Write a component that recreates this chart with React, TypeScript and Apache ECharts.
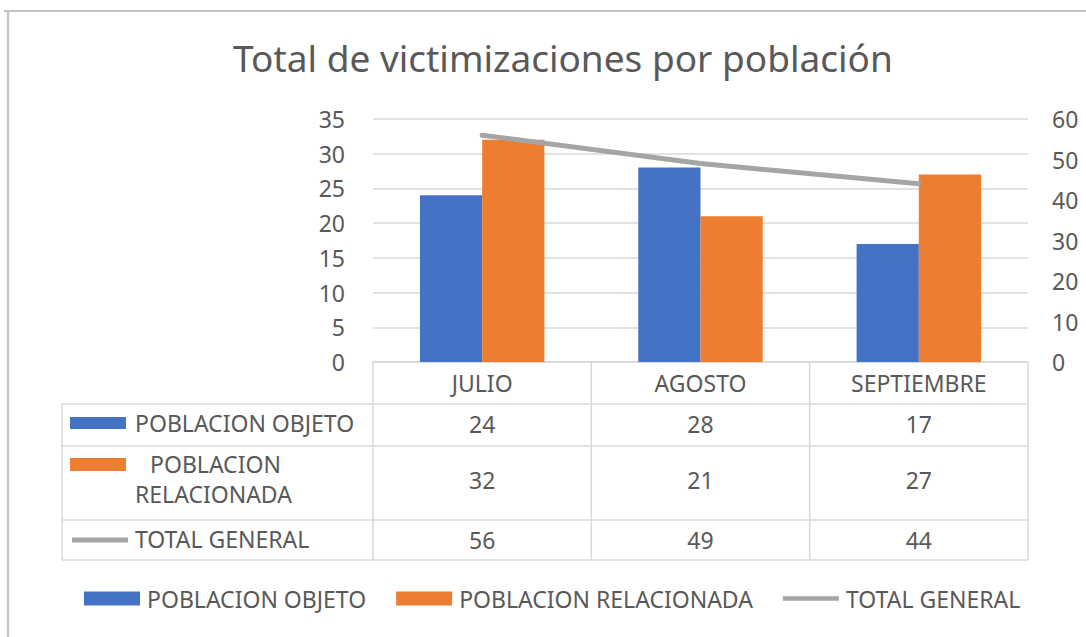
import React, { useEffect, useRef } from 'react';
import * as echarts from 'echarts';

const title = 'Total de victimizaciones por población';
const categories = ['JULIO', 'AGOSTO', 'SEPTIEMBRE'];
const seriesNames = ['POBLACION OBJETO', 'POBLACION RELACIONADA', 'TOTAL GENERAL'];
const poblacionObjeto = [24, 28, 17];
const poblacionRelacionada = [32, 21, 27];
const totalGeneral = [56, 49, 44];
const leftAxis = { min: 0, max: 35, interval: 5 };
const rightAxis = { min: 0, max: 60, interval: 10 };

const FONT = '"Noto Sans", sans-serif';
const TXT = '#595959';
const GRIDC = '#d9d9d9';
const COLORS = ['#4472C4', '#ED7D31', '#A5A5A5'];

const G = { l: 373, r: 1028, t: 119, b: 362 };
const ROWS = [362, 404, 446, 520, 560];
const TABLE_L = 62;

export default function App() {
  const ref = useRef<HTMLDivElement>(null);
  useEffect(() => {
    document.body.style.margin = '0';
    const chart = echarts.init(ref.current!, null, { renderer: 'svg' });
    chart.setOption({
      animation: false,
      backgroundColor: '#ffffff',
      title: {
        text: title,
        left: 228,
        top: 34,
        textStyle: { fontFamily: FONT, fontSize: 37, fontWeight: 'normal', color: TXT },
      },
      legend: {
        left: 84,
        top: 587,
        padding: 0,
        itemWidth: 56,
        itemHeight: 14,
        itemGap: 30,
        textStyle: { fontFamily: FONT, fontSize: 23, color: TXT, padding: [0, 0, 0, 2] },
        data: [
          { name: seriesNames[0], icon: 'rect' },
          { name: seriesNames[1], icon: 'rect' },
          { name: seriesNames[2], icon: 'path://M0,0L60,0L60,5L0,5Z' },
        ],
      },
      grid: { left: G.l, right: 1086 - G.r, top: G.t, bottom: 637 - G.b, containLabel: false },
      xAxis: {
        type: 'category',
        data: categories,
        axisLine: { show: true, lineStyle: { color: GRIDC, width: 1.5 } },
        axisTick: { show: false },
        axisLabel: {
          margin: 21,
          verticalAlign: 'middle',
          fontFamily: FONT,
          fontSize: 23,
          color: TXT,
        },
      },
      yAxis: [
        {
          type: 'value',
          ...leftAxis,
          axisLine: { show: false },
          axisTick: { show: false },
          axisLabel: { margin: 28, fontFamily: FONT, fontSize: 23, color: TXT },
          splitLine: { lineStyle: { color: GRIDC, width: 1.5 } },
        },
        {
          type: 'value',
          ...rightAxis,
          position: 'right',
          axisLine: { show: false },
          axisTick: { show: false },
          axisLabel: { margin: 24, fontFamily: FONT, fontSize: 23, color: TXT },
          splitLine: { show: false },
        },
      ],
      series: [
        {
          name: seriesNames[0],
          type: 'bar',
          data: poblacionObjeto,
          itemStyle: { color: COLORS[0] },
          barGap: '0%',
          barCategoryGap: '43%',
        },
        {
          name: seriesNames[1],
          type: 'bar',
          data: poblacionRelacionada,
          itemStyle: { color: COLORS[1] },
          barGap: '0%',
          barCategoryGap: '43%',
        },
        {
          name: seriesNames[2],
          type: 'line',
          yAxisIndex: 1,
          data: totalGeneral,
          symbol: 'none',
          lineStyle: { color: COLORS[2], width: 5, cap: 'round' },
          itemStyle: { color: COLORS[2] },
          z: 5,
        },
      ],
    });

    const xs = categories.map((c) => chart.convertToPixel({ xAxisIndex: 0 }, c) as number);
    const colEdges = [G.l, ...categories.map((_, i) => G.l + ((G.r - G.l) * (i + 1)) / categories.length)];
    const line = (x1: number, y1: number, x2: number, y2: number, color = GRIDC, w = 1.5) => ({
      type: 'line',
      shape: { x1, y1, x2, y2 },
      style: { stroke: color, lineWidth: w },
      silent: true,
    });
    const text = (t: string, x: number, y: number, align = 'center') => ({
      type: 'text',
      x,
      y,
      style: { text: t, fill: TXT, font: `23px ${FONT}`, align, verticalAlign: 'middle' },
      silent: true,
    });
    const elements: any[] = [];
    // outer frame
    elements.push(line(4, 11, 1086, 11, '#c4c4c4', 2));
    elements.push(line(8, 11, 8, 637, '#c8c8c8', 2.5));
    // table horizontal lines
    ROWS.slice(1).forEach((y) => elements.push(line(TABLE_L, y, G.r, y)));
    // vertical lines
    colEdges.forEach((x) => elements.push(line(x, ROWS[0], x, ROWS[4])));
    elements.push(line(TABLE_L, ROWS[1], TABLE_L, ROWS[4]));
    // row keys
    elements.push({ type: 'rect', shape: { x: 70, y: 417, width: 56, height: 12 }, style: { fill: COLORS[0] } });
    elements.push(text(seriesNames[0], 135, 423, 'left'));
    elements.push({ type: 'rect', shape: { x: 70, y: 458, width: 56, height: 13 }, style: { fill: COLORS[1] } });
    elements.push(text('POBLACION', 150, 464, 'left'));
    elements.push(text('RELACIONADA', 135, 494, 'left'));
    elements.push(line(72, 540, 128, 540, COLORS[2], 5));
    elements.push(text(seriesNames[2], 135, 539, 'left'));
    // values
    const rowsData = [poblacionObjeto, poblacionRelacionada, totalGeneral];
    const rowCenters = [424, 480, 540];
    rowsData.forEach((arr, r) =>
      arr.forEach((v, i) => elements.push(text(String(v), xs[i], rowCenters[r])))
    );
    chart.setOption({ graphic: elements });

    return () => chart.dispose();
  }, []);
  return <div ref={ref} style={{ width: 1086, height: 637 }} />;
}
